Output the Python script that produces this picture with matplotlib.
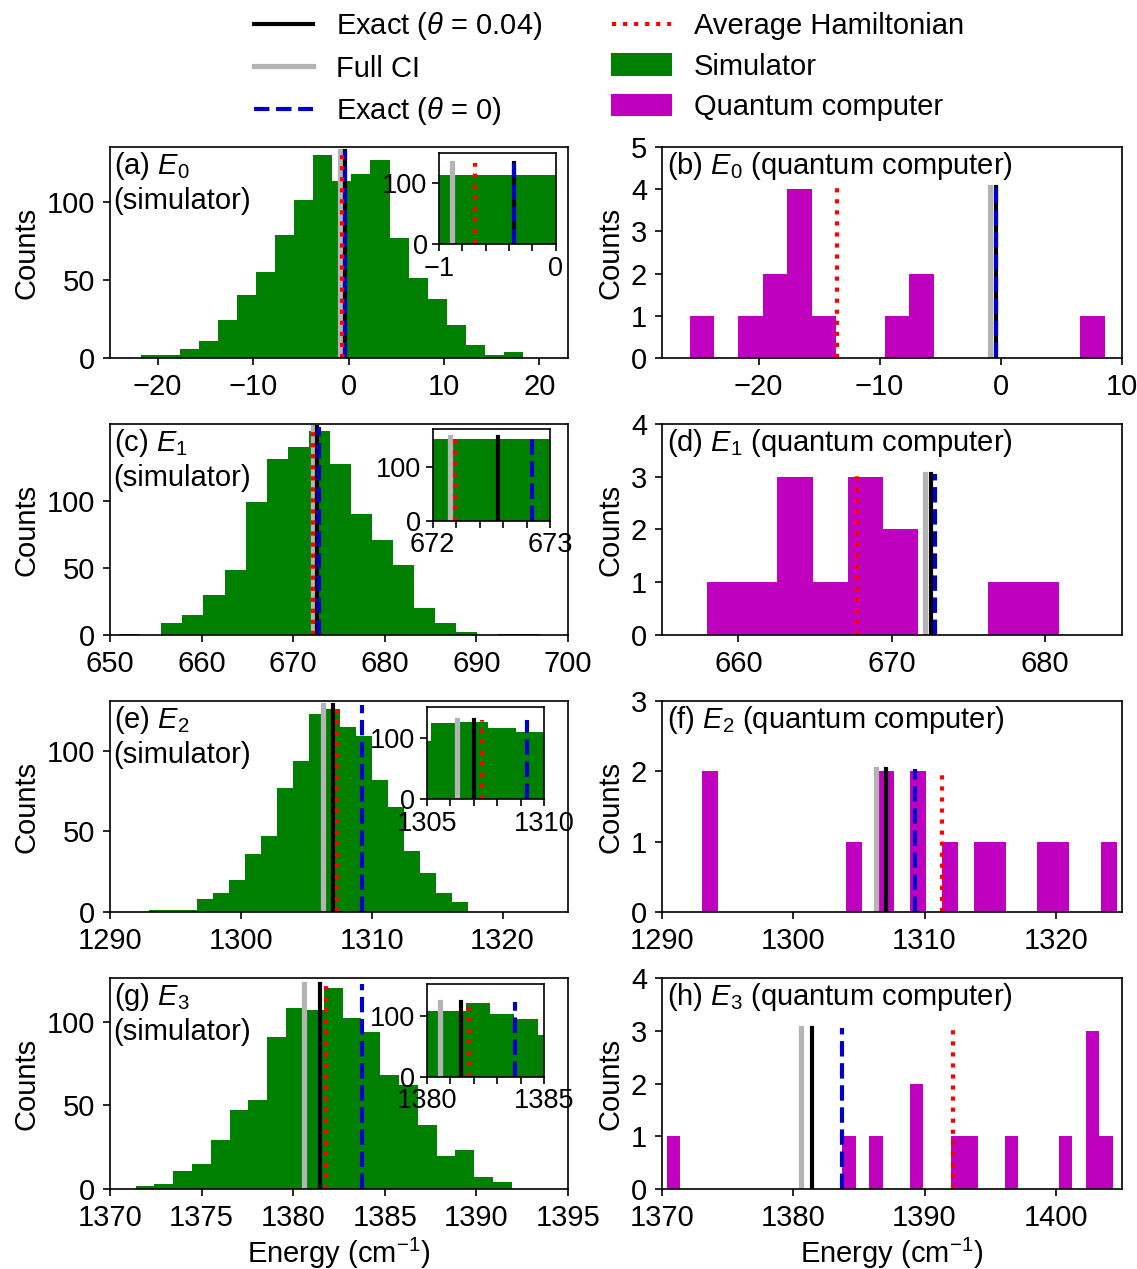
import numpy as np
import matplotlib
matplotlib.use("Agg")
import matplotlib.pyplot as plt
from matplotlib.lines import Line2D
from matplotlib.patches import Patch

plt.rcParams['font.family'] = ['Liberation Sans', 'DejaVu Sans']
plt.rcParams['mathtext.fontset'] = 'custom'
plt.rcParams['mathtext.rm'] = 'Liberation Sans'
plt.rcParams['mathtext.it'] = 'Liberation Sans:italic'
plt.rcParams['mathtext.bf'] = 'Liberation Sans:bold'
plt.rcParams['font.size'] = 14

# ---------------- data ----------------
states = ['E_0', 'E_1', 'E_2', 'E_3']

# simulator histograms (counts per bin, first and last bin edge)
sim_E0_counts = [2, 2, 6, 11, 24, 40, 55, 79, 101, 130, 113, 118, 127, 77, 51, 38, 21, 8, 2, 4]
sim_E0_range = (-21.7, 18.3)
sim_E1_counts = [1, 0, 9, 15, 30, 48, 99, 131, 140, 152, 127, 90, 71, 52, 20, 9, 2, 0, 1, 1]
sim_E1_range = (651.0, 697.0)
sim_E2_counts = [1, 1, 1, 8, 12, 20, 36, 47, 77, 94, 123, 126, 115, 109, 82, 65, 38, 24, 12, 6]
sim_E2_range = (1293.0, 1317.35)
sim_E3_counts = [2, 3, 11, 15, 29, 47, 53, 91, 108, 107, 120, 102, 94, 68, 62, 38, 20, 23, 7, 4]
sim_E3_range = (1371.40, 1391.93)

# quantum computer histograms
qc_E0_counts = [1, 0, 1, 2, 4, 1, 0, 0, 1, 2, 0, 0, 0, 0, 0, 0, 1]
qc_E0_range = (-25.7, 8.6)
qc_E1_counts = [1, 1, 3, 1, 3, 2, 0, 0, 1, 1]
qc_E1_range = (657.95, 680.9)
qc_E2_counts = [2, 0, 0, 0, 0, 0, 0, 0, 0, 1, 0, 2, 0, 2, 0, 1, 0, 1, 1, 0, 0, 1, 1, 0, 0, 1]
qc_E2_range = (1293.1, 1324.66)
qc_E3_counts = [1, 0, 0, 0, 0, 0, 0, 0, 0, 0, 0, 0, 0, 1, 0, 1, 0, 0, 2, 0, 0, 1, 1, 0, 0, 1, 0, 0, 0, 1, 0, 3, 1]
qc_E3_range = (1370.37, 1404.32)

# reference energies (cm^-1)
full_ci = [-0.89, 672.15, 1306.28, 1380.57]
exact_theta004 = [-0.36, 672.56, 1307.03, 1381.46]
exact_theta0 = [-0.36, 672.85, 1309.26, 1383.75]
avg_ham_sim = [-0.69, 672.19, 1307.34, 1381.81]
avg_ham_qc = [-13.56, 667.71, 1311.3, 1392.15]

# axis settings
sim_xlim = [(-25, 23), (650, 700), (1290, 1325), (1370, 1395)]
sim_xticks = [[-20, -10, 0, 10, 20], [650, 660, 670, 680, 690, 700],
              [1290, 1300, 1310, 1320], [1370, 1375, 1380, 1385, 1390, 1395]]
sim_ylim = [135, 157, 131, 126]
qc_xlim = [(-28, 10), (655, 685), (1290, 1325), (1370, 1405)]
qc_xticks = [[-20, -10, 0, 10], [660, 670, 680], [1290, 1300, 1310, 1320], [1370, 1380, 1390, 1400]]
qc_ylim = [5, 4, 3, 4]
inset_xlim = [(-1, 0), (672, 673), (1305, 1310), (1380, 1385)]
inset_xticks = [[-1, -0.8, -0.6, -0.4, -0.2, 0], [672, 672.2, 672.4, 672.6, 672.8, 673],
                [1305, 1306, 1307, 1308, 1309, 1310], [1380, 1381, 1382, 1383, 1384, 1385]]
inset_xticklabels = [['\u22121', '0'], ['672', '673'], ['1305', '1310'], ['1380', '1385']]
inset_ylim = [149, 169, 150, 151]
sim_labels = ['(a)', '(c)', '(e)', '(g)']
qc_labels = ['(b)', '(d)', '(f)', '(h)']

sim_counts = [sim_E0_counts, sim_E1_counts, sim_E2_counts, sim_E3_counts]
sim_ranges = [sim_E0_range, sim_E1_range, sim_E2_range, sim_E3_range]
qc_counts = [qc_E0_counts, qc_E1_counts, qc_E2_counts, qc_E3_counts]
qc_ranges = [qc_E0_range, qc_E1_range, qc_E2_range, qc_E3_range]

# ---------------- styles ----------------
C_SIM = 'green'
C_QC = 'm'
C_FCI = '#b4b4b4'
C_EX = 'black'
C_EX0 = '#0000c8'
C_AVG = 'red'
LW = 2

W, H = 1137, 1269
fig = plt.figure(figsize=(W / 150, H / 150), dpi=150)


def px_axes(left, top, right, bottom):
    return fig.add_axes([left / W, 1 - bottom / H, (right - left) / W, (bottom - top) / H])


def draw_hist(ax, counts, rng, color):
    counts = np.asarray(counts, dtype=float)
    edges = np.linspace(rng[0], rng[1], len(counts) + 1)
    centers = 0.5 * (edges[:-1] + edges[1:])
    ax.hist(centers, bins=edges, weights=counts, color=color)
    return counts.max()


def draw_lines(ax, i, avg, top):
    ax.plot([full_ci[i]] * 2, [0, top], color=C_FCI, lw=LW + 0.5)
    ax.plot([exact_theta004[i]] * 2, [0, top], color=C_EX, lw=LW)
    ax.plot([exact_theta0[i]] * 2, [0, top], color=C_EX0, lw=LW, ls='--')
    ax.plot([avg] * 2, [0, top], color=C_AVG, lw=LW, ls=':')


row_bottoms = [358, 635, 912, 1189]
row_h = 211
inset_boxes = [(439, 152.7, 555.7, 244.3), (432.7, 429.3, 550, 521),
               (426.7, 706.7, 544, 799.3), (426.7, 984.3, 544.3, 1076.7)]

for i in range(4):
    b = row_bottoms[i]
    # simulator panel
    ax = px_axes(110, b - row_h, 568, b)
    mx = draw_hist(ax, sim_counts[i], sim_ranges[i], C_SIM)
    draw_lines(ax, i, avg_ham_sim[i], mx * 1.02)
    ax.set_xlim(*sim_xlim[i])
    ax.set_xticks(sim_xticks[i])
    ax.set_ylim(0, sim_ylim[i])
    ax.set_yticks([0, 50, 100])
    ax.set_ylabel('Counts', labelpad=3)
    ax.text(0.008, 0.985, f'{sim_labels[i]} ${states[i]}$\n(simulator)', transform=ax.transAxes,
            ha='left', va='top')
    if i == 3:
        ax.set_xlabel('Energy (cm$^{-1}$)', labelpad=2)

    # inset
    axi = px_axes(*inset_boxes[i])
    draw_hist(axi, sim_counts[i], sim_ranges[i], C_SIM)
    draw_lines(axi, i, avg_ham_sim[i], mx * 1.02)
    axi.set_xlim(*inset_xlim[i])
    axi.set_xticks(inset_xticks[i])
    labs = [''] * len(inset_xticks[i])
    labs[0] = inset_xticklabels[i][0]
    labs[-1] = inset_xticklabels[i][1]
    axi.set_xticklabels(labs)
    axi.set_ylim(0, inset_ylim[i])
    axi.set_yticks([0, 100])
    axi.tick_params(labelsize=13, pad=2)

    # quantum computer panel
    axq = px_axes(661.7, b - row_h, 1121.7, b)
    mq = draw_hist(axq, qc_counts[i], qc_ranges[i], C_QC)
    draw_lines(axq, i, avg_ham_qc[i], mq * 1.015)
    axq.set_xlim(*qc_xlim[i])
    axq.set_xticks(qc_xticks[i])
    axq.set_ylim(0, qc_ylim[i])
    axq.set_yticks(range(qc_ylim[i] + 1))
    axq.set_ylabel('Counts', labelpad=3)
    axq.text(0.012, 0.985, f'{qc_labels[i]} ${states[i]}$ (quantum computer)', transform=axq.transAxes,
             ha='left', va='top')
    if i == 3:
        axq.set_xlabel('Energy (cm$^{-1}$)', labelpad=2)

handles = [
    Line2D([], [], color=C_EX, lw=LW),
    Line2D([], [], color=C_FCI, lw=LW + 0.5),
    Line2D([], [], color=C_EX0, lw=LW, ls='--'),
    Line2D([], [], color=C_AVG, lw=LW, ls=':'),
    Patch(color=C_SIM),
    Patch(color=C_QC),
]
labels = [r'Exact ($\theta$ = 0.04)', 'Full CI', r'Exact ($\theta$ = 0)',
          'Average Hamiltonian', 'Simulator', 'Quantum computer']
fig.legend(handles, labels, ncol=2, loc='upper center', bbox_to_anchor=(0.5357, 1.013),
           frameon=False, fontsize=14, labelspacing=0.44, columnspacing=2.4)

fig.savefig('out.png', dpi=150)
